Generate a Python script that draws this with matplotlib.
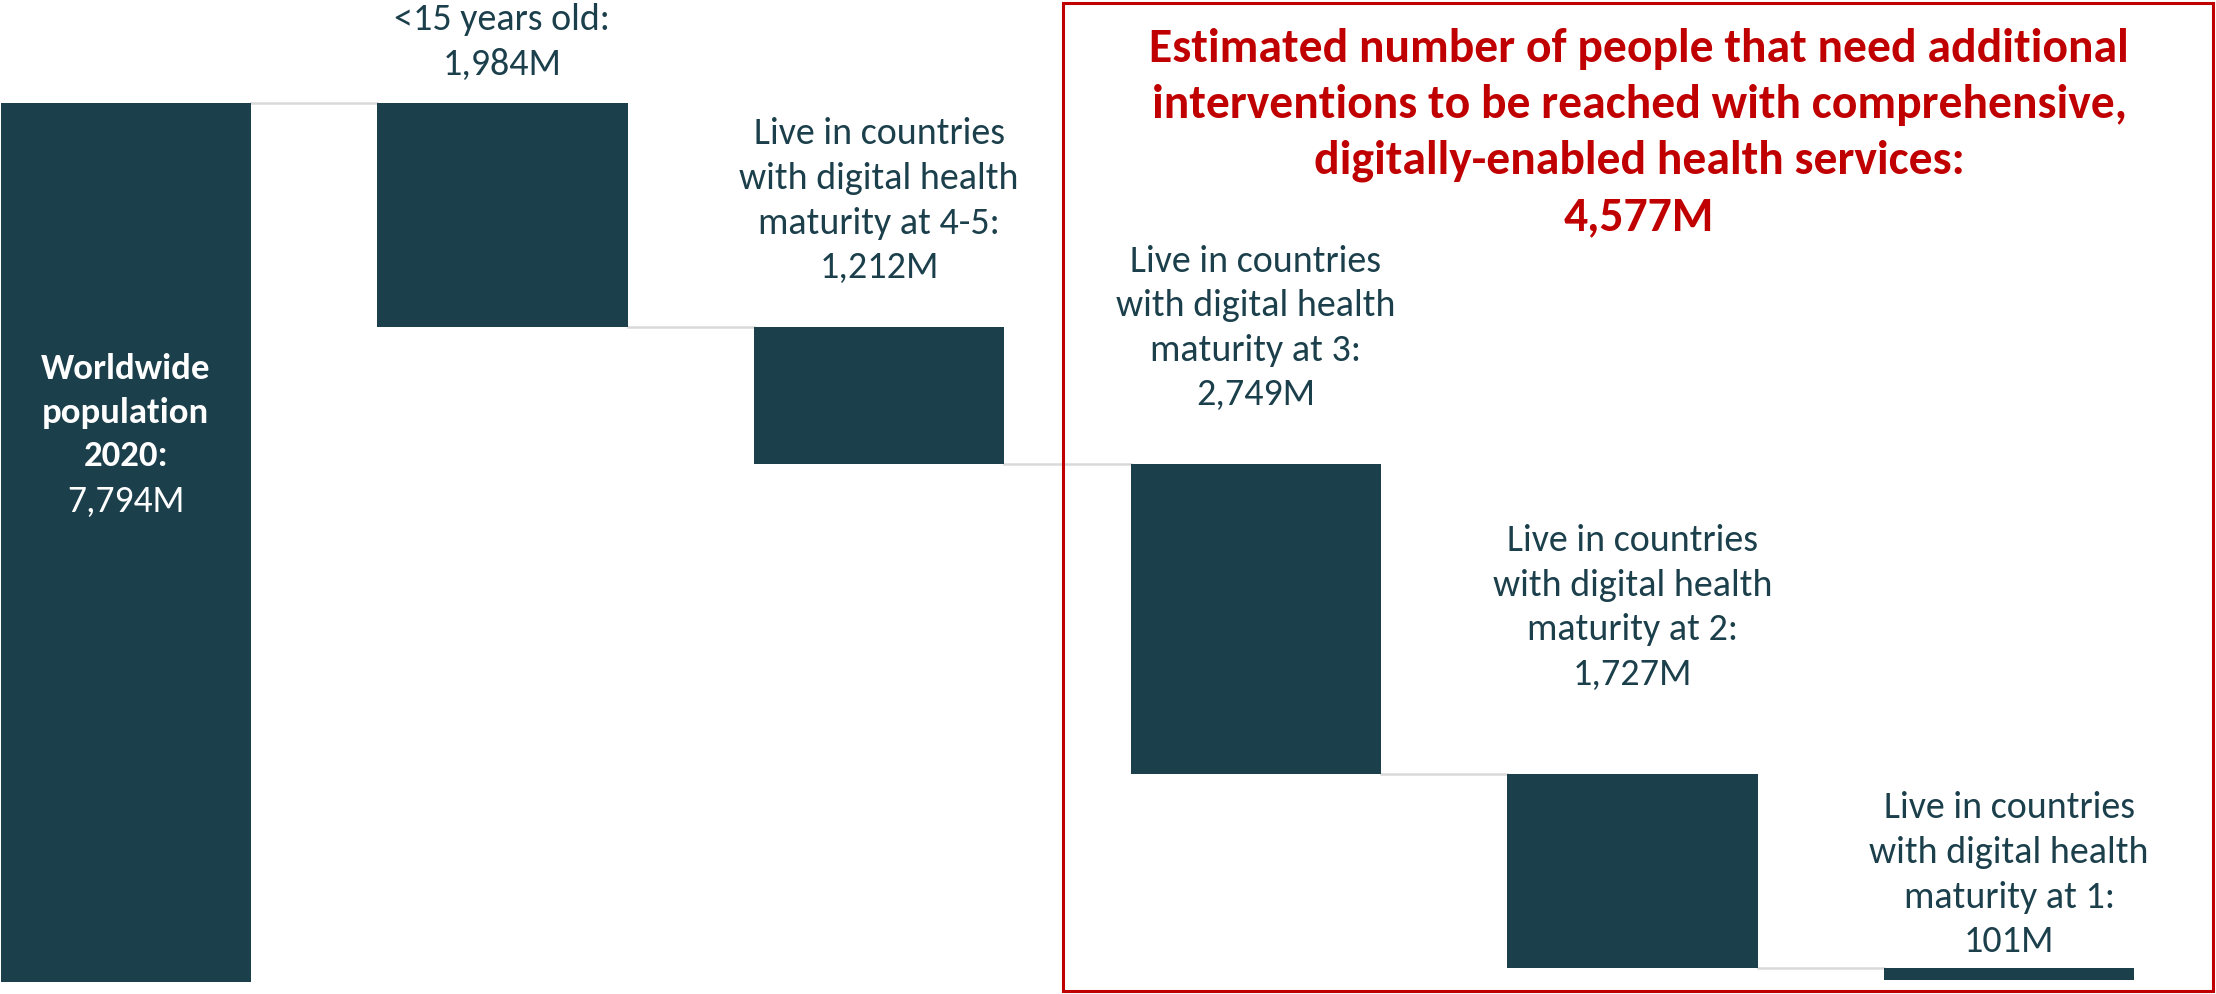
import matplotlib.pyplot as plt
from matplotlib.patches import Rectangle

plt.rcParams['font.family'] = ['Carlito', 'Liberation Sans Narrow', 'DejaVu Sans']

# waterfall data (millions of people)
total = 7794
steps = [1984, 1212, 2749, 1727, 101]
labels = ["<15 years old:\n1,984M",
          "Live in countries\nwith digital health\nmaturity at 4-5:\n1,212M",
          "Live in countries\nwith digital health\nmaturity at 3:\n2,749M",
          "Live in countries\nwith digital health\nmaturity at 2:\n1,727M",
          "Live in countries\nwith digital health\nmaturity at 1:\n101M"]
first_bold = "Worldwide\npopulation\n2020:"
first_value = "7,794M"
callout = ("Estimated number of people that need additional\n"
           "interventions to be reached with comprehensive,\n"
           "digitally-enabled health services:\n4,577M")

bar_col = '#1B3F4B'
red = '#C00000'

fig = plt.figure(figsize=(22.16, 9.94), dpi=100)
ax = fig.add_axes([0, 0, 1, 1])

w = 0.664
ax.bar(0, total, width=w, color=bar_col)

# floating bars
level = total
tops = []
for i, s in enumerate(steps):
    ax.bar(i + 1, s, bottom=level - s, width=w, color=bar_col)
    tops.append(level)
    level -= s

# connectors between bars
lvl = [total] + [t - s for t, s in zip(tops, steps)]
for i in range(len(steps)):
    ax.plot([i + w / 2, i + 1 - w / 2], [lvl[i], lvl[i]], color='#D9D9D9', lw=1.8, zorder=0)

# label heights (axes fraction), placed by eye
label_y = [0.958, 0.798, 0.670, 0.389, 0.120]
for i, (txt, yy) in enumerate(zip(labels, label_y)):
    ax.text(i + 1, yy, txt, transform=ax.get_xaxis_transform(), ha='center', va='center',
            fontsize=27.4, color=bar_col, linespacing=1.43)

ax.text(0, 0.585, first_bold, transform=ax.get_xaxis_transform(), ha='center', va='center',
        fontsize=26.5, color='white', fontweight='bold', linespacing=1.45)
ax.text(0, 0.495, first_value, transform=ax.get_xaxis_transform(), ha='center', va='center',
        fontsize=27, color='white')

fig.text(0.7397, 0.866, callout, ha='center', va='center', fontsize=34.3, color=red,
         fontweight='bold', linespacing=1.41)

fig.add_artist(Rectangle((0.4797, 0.003), 0.519, 0.994, transform=fig.transFigure,
                         fill=False, edgecolor=red, lw=2.2))

ax.set_xlim(-0.334, 5.549)
ax.set_ylim(-106, 8708)
ax.axis('off')

fig.savefig('out.png', dpi=100)
